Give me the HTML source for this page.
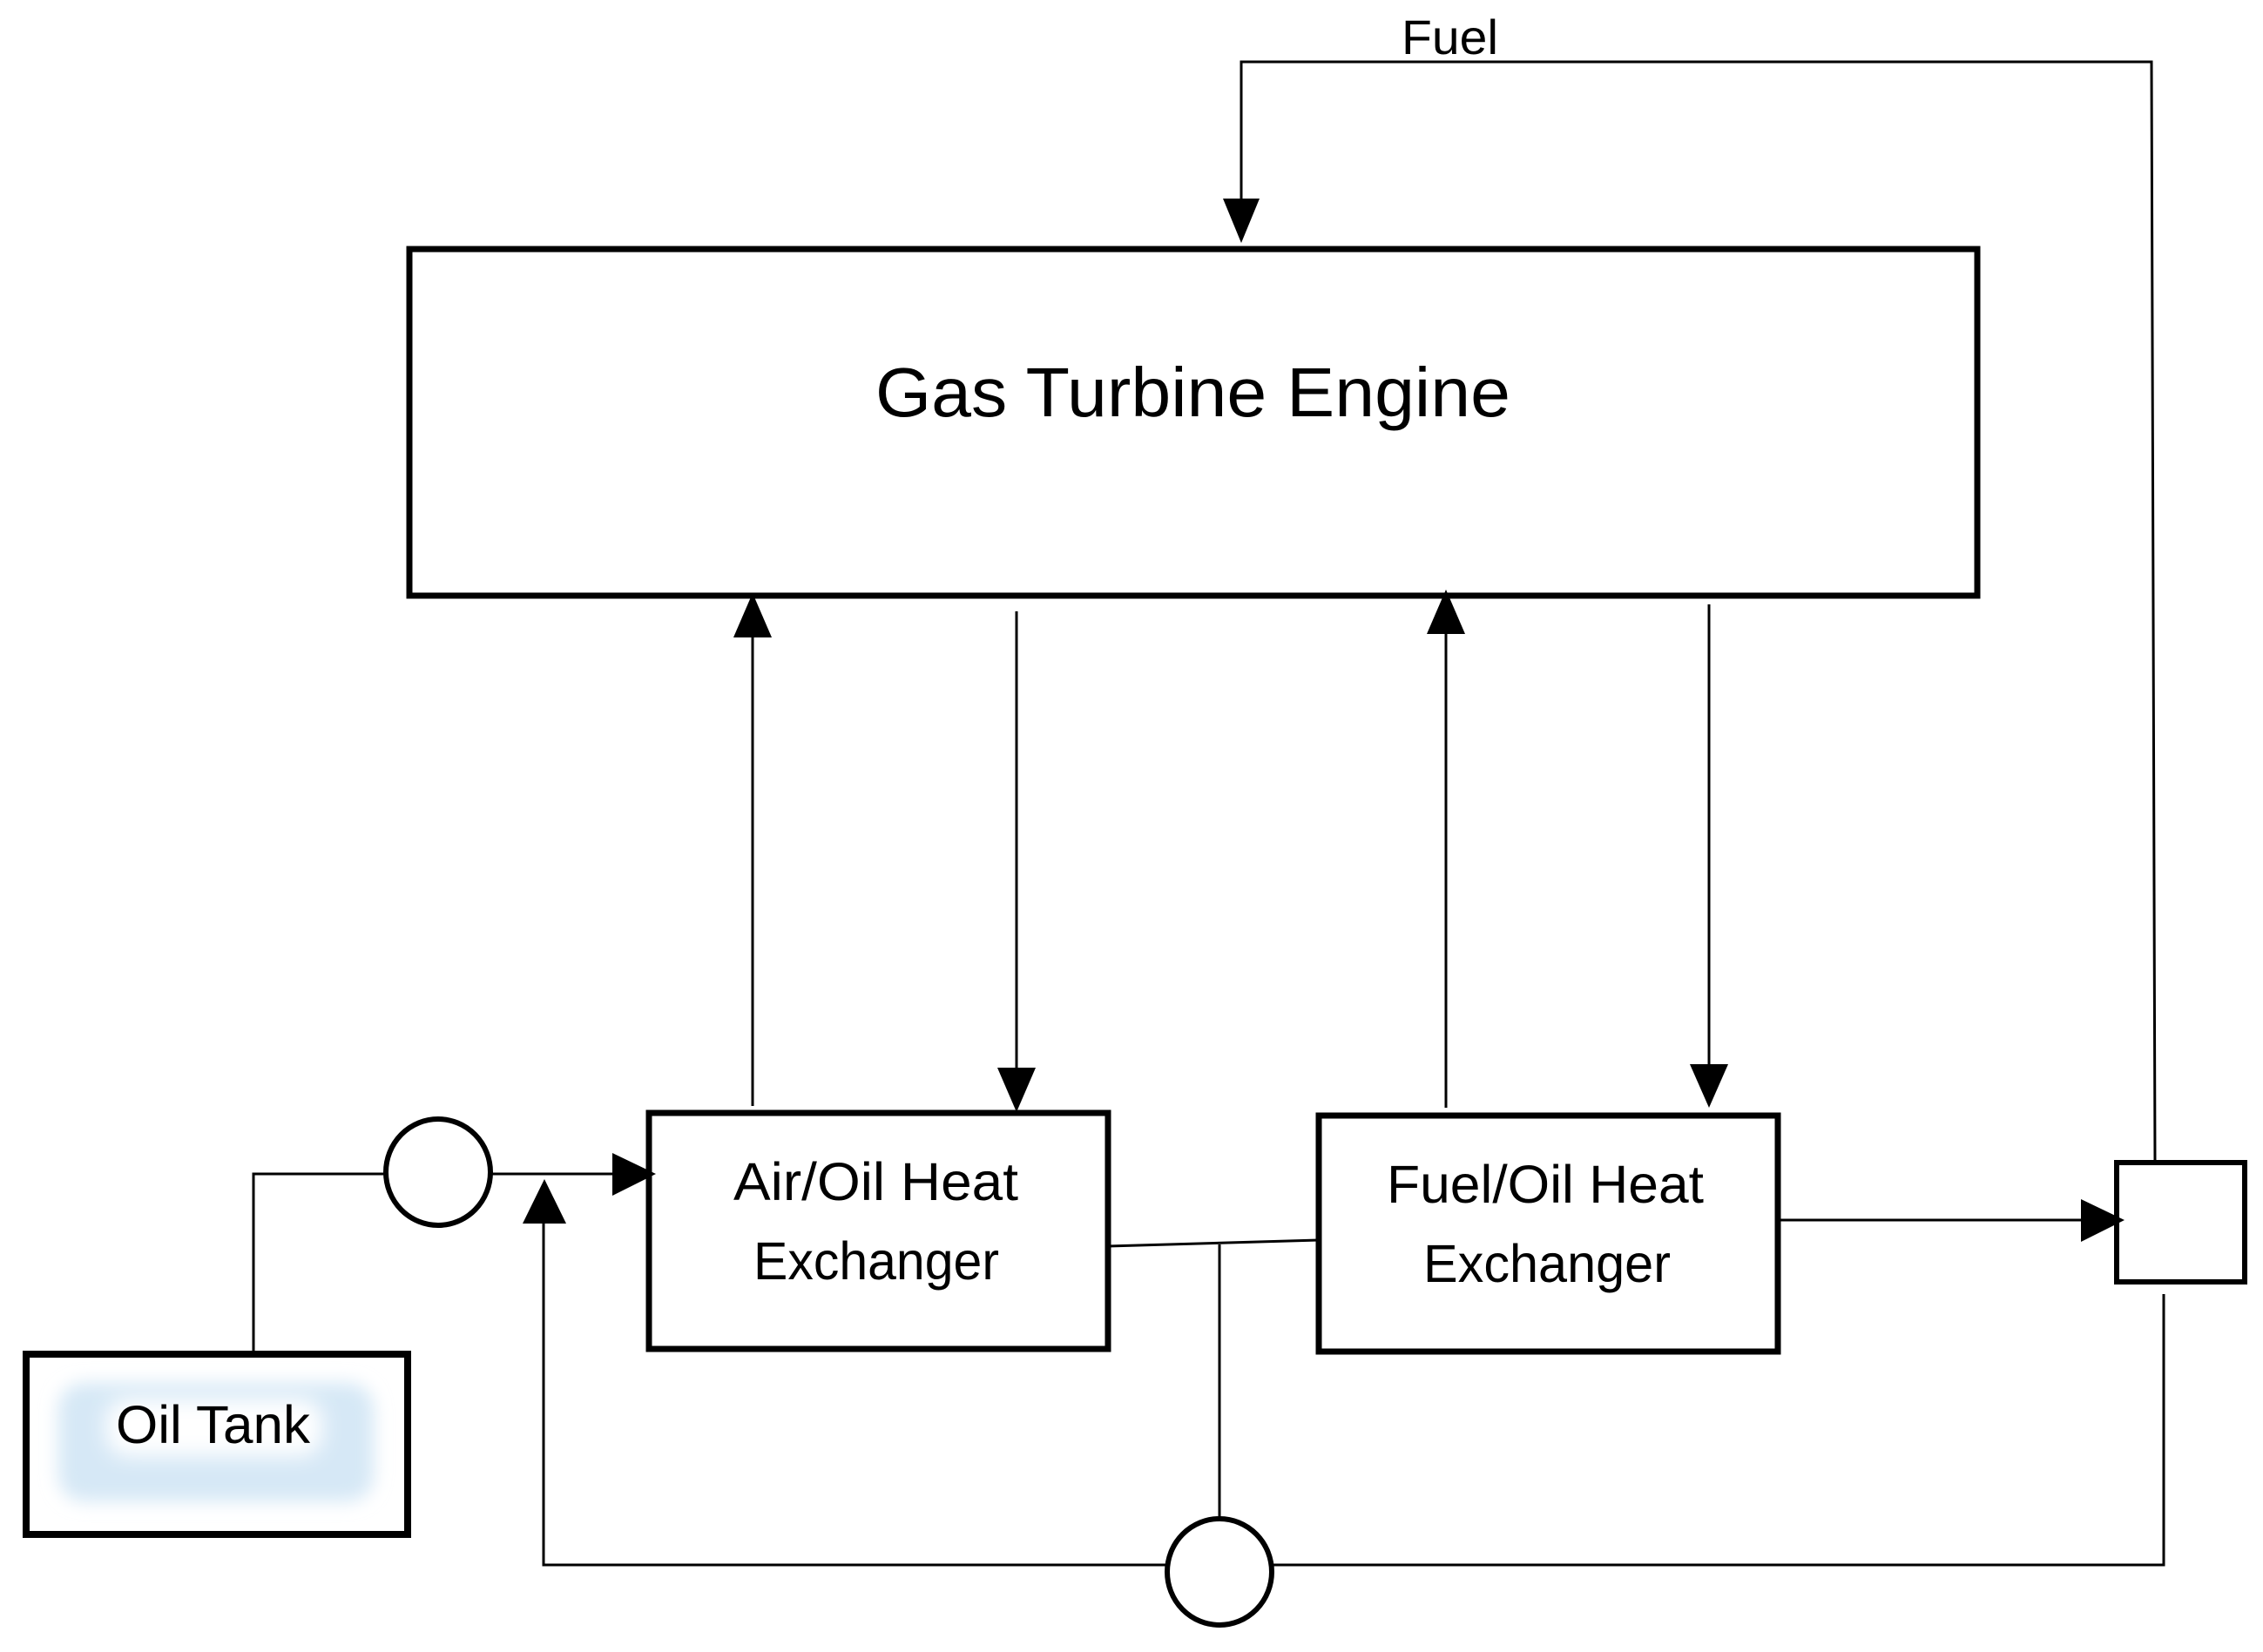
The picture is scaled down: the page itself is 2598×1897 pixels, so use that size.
<!DOCTYPE html>
<html><head><style>body{margin:0;background:#fff}svg{display:block}</style></head>
<body>
<svg width="2598" height="1897" viewBox="0 0 2598 1897" xmlns="http://www.w3.org/2000/svg" font-family="Liberation Sans, sans-serif">
<defs>
<filter id="b" x="-20%" y="-40%" width="140%" height="180%"><feGaussianBlur stdDeviation="10"/></filter>
<filter id="b2" x="-20%" y="-40%" width="140%" height="180%"><feGaussianBlur stdDeviation="12"/></filter>
</defs>
<g transform="translate(-3,0)">
<g fill="none" stroke="#000">
<rect x="473" y="286" width="1800" height="398" stroke-width="7"/>
<rect x="748" y="1278" width="527" height="271" stroke-width="7"/>
<rect x="1517" y="1281" width="527" height="271" stroke-width="7"/>
<rect x="2433" y="1335" width="147" height="137" stroke-width="6"/>
<rect x="33" y="1555" width="438" height="207" stroke-width="8"/>
<ellipse cx="506" cy="1346" rx="60" ry="61" stroke-width="6"/>
<ellipse cx="1403" cy="1805" rx="60" ry="61" stroke-width="6"/>
<g stroke-width="3">
<polyline points="1428,250 1428,71 2473,71 2477,1335"/>
<line x1="867" y1="1270" x2="867" y2="720"/>
<line x1="1170" y1="702" x2="1170" y2="1240"/>
<line x1="1663" y1="1272" x2="1663" y2="715"/>
<line x1="1965" y1="694" x2="1965" y2="1235"/>
<polyline points="294,1552 294,1348 446,1348"/>
<line x1="566" y1="1348" x2="720" y2="1348"/>
<line x1="1275" y1="1431" x2="1517" y2="1424"/>
<line x1="1403" y1="1429" x2="1403" y2="1744"/>
<polyline points="627,1400 627,1797 1343,1797"/>
<polyline points="1463,1797 2487,1797 2487,1486"/>
<line x1="2044" y1="1401" x2="2410" y2="1401"/>
</g>
</g>
<g fill="#000">
<polygon points="1407,228 1449,228 1428,279"/>
<polygon points="845,732 889,732 867,681"/>
<polygon points="1148,1226 1192,1226 1170,1277"/>
<polygon points="1641,728 1685,728 1663,677"/>
<polygon points="1943,1222 1987,1222 1965,1272"/>
<polygon points="706,1324 706,1373 756,1348"/>
<polygon points="603,1405 653,1405 628,1354"/>
<polygon points="2392,1377 2392,1426 2442,1401"/>
</g>
<rect x="70" y="1588" width="362" height="136" rx="30" fill="#d6e8f6" filter="url(#b)"/>
<rect x="125" y="1606" width="248" height="66" rx="25" fill="#fff" filter="url(#b2)"/>
<g fill="#000">
<text x="1612" y="62" font-size="56" textLength="111" lengthAdjust="spacingAndGlyphs">Fuel</text>
<text x="1008" y="478" font-size="80" textLength="729" lengthAdjust="spacingAndGlyphs">Gas Turbine Engine</text>
<text x="845" y="1378" font-size="61" textLength="327" lengthAdjust="spacingAndGlyphs">Air/Oil Heat</text>
<text x="868" y="1469" font-size="61" textLength="282" lengthAdjust="spacingAndGlyphs">Exchanger</text>
<text x="1595" y="1381" font-size="61" textLength="364" lengthAdjust="spacingAndGlyphs">Fuel/Oil Heat</text>
<text x="1637" y="1472" font-size="61" textLength="284" lengthAdjust="spacingAndGlyphs">Exchanger</text>
<text x="136" y="1657" font-size="61" textLength="223" lengthAdjust="spacingAndGlyphs">Oil Tank</text>
</g>
</g>
</svg>
</body></html>
